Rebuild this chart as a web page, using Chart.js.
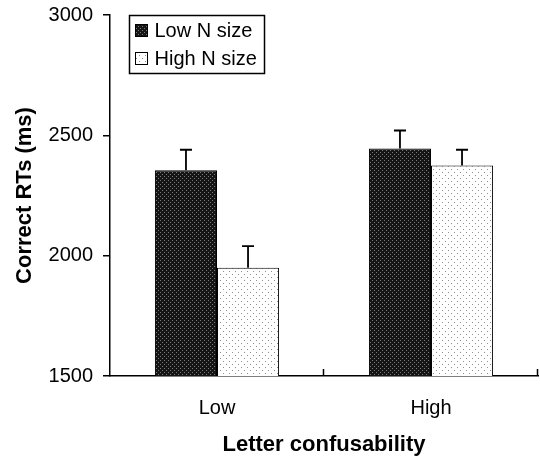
<!DOCTYPE html>
<html>
<head>
<meta charset="utf-8">
<script src="https://cdn.jsdelivr.net/npm/chart.js@4.4.1/dist/chart.umd.min.js"></script>
<style>
  html, body { margin: 0; padding: 0; background: #fff; }
  #wrap { width: 540px; height: 459px; position: relative; }
</style>
</head>
<body>
<div id="wrap"><canvas id="chart1"></canvas></div>
<script>
// data
var categories = ["Low", "High"];
var seriesNames = ["Low N size", "High N size"];
var lowNSize = [2355, 2445];
var highNSize = [1950, 2375];
var lowNSizeErr = [85, 75];
var highNSizeErr = [90, 65];
var yTicks = [1500, 2000, 2500, 3000];

var FONT = "'Liberation Sans', Arial, sans-serif";

// fill patterns
function makePattern(size, bg, dot, dots) {
	var c = document.createElement("canvas");
	c.width = size; c.height = size;
	var g = c.getContext("2d");
	g.fillStyle = bg;
	g.fillRect(0, 0, size, size);
	g.fillStyle = dot;
	dots.forEach(function(d) { g.fillRect(d[0], d[1], 1, 1); });
	return g.createPattern(c, "repeat");
}
var ctx = document.getElementById("chart1").getContext("2d");
var darkFill = makePattern(4, "#151515", "#7a7a7a", [[0, 0], [2, 2]]);
var lightFill = makePattern(6, "#ffffff", "#8f8f8f", [[1, 1], [4, 4]]);

// error bars (upward only)
var errorBars = {
	id: "errorBars",
	afterDatasetsDraw: function(chart) {
		var c = chart.ctx, y = chart.scales.y;
		c.save();
		c.strokeStyle = "#000";
		c.lineWidth = 1.8;
		chart.data.datasets.forEach(function(ds, i) {
			var meta = chart.getDatasetMeta(i);
			meta.data.forEach(function(bar, j) {
				var top = y.getPixelForValue(ds.data[j] + ds.errors[j]);
				c.beginPath();
				c.moveTo(bar.x, bar.y);
				c.lineTo(bar.x, top);
				c.moveTo(bar.x - 6, top);
				c.lineTo(bar.x + 6, top);
				c.stroke();
			});
		});
		c.restore();
	}
};

// small inward ticks between categories on the x axis
var xTicksIn = {
	id: "xTicksIn",
	afterDraw: function(chart) {
		var c = chart.ctx, x = chart.scales.x, area = chart.chartArea;
		var half = (x.getPixelForValue(1) - x.getPixelForValue(0)) / 2;
		c.save();
		c.strokeStyle = "#000";
		c.lineWidth = 1.5;
		categories.forEach(function(cat, i) {
			var px = Math.round(x.getPixelForValue(i) + half) - 0.5;
			c.beginPath();
			c.moveTo(px, area.bottom);
			c.lineTo(px, area.bottom - 7);
			c.stroke();
		});
		c.restore();
	}
};

// boxed legend inside plot
var boxLegend = {
	id: "boxLegend",
	afterDraw: function(chart) {
		var c = chart.ctx, area = chart.chartArea;
		var bx = area.left + 19.5, by = area.top + 0.5, bw = 135, bh = 58;
		c.save();
		c.fillStyle = "#fff";
		c.fillRect(bx, by, bw, bh);
		c.strokeStyle = "#000";
		c.lineWidth = 1.5;
		c.strokeRect(bx, by, bw, bh);
		c.font = "20px " + FONT;
		c.textBaseline = "middle";
		chart.data.datasets.forEach(function(ds, i) {
			var cy = by + 15 + i * 28;
			c.fillStyle = ds.backgroundColor;
			c.fillRect(bx + 6, cy - 6, 12, 12);
			c.lineWidth = 1;
			c.strokeRect(bx + 6, cy - 6, 12, 12);
			c.fillStyle = "#000";
			c.fillText(ds.label, bx + 25, cy + 1);
		});
		c.restore();
	}
};

var chart = new Chart(ctx, {
	type: "bar",
	data: {
		labels: categories,
		datasets: [{
			label: seriesNames[0],
			data: lowNSize,
			errors: lowNSizeErr,
			backgroundColor: darkFill,
			borderColor: "#000",
			borderWidth: 1,
			borderSkipped: "bottom"
		}, {
			label: seriesNames[1],
			data: highNSize,
			errors: highNSizeErr,
			backgroundColor: lightFill,
			borderColor: "#000",
			borderWidth: 1,
			borderSkipped: "bottom"
		}]
	},
	options: {
		responsive: true,
		maintainAspectRatio: false,
		animation: false,
		categoryPercentage: 0.58,
		barPercentage: 1.0,
		layout: {
			padding: { top: 15, right: 2, bottom: 0, left: 0 }
		},
		plugins: {
			legend: { display: false },
			tooltip: { enabled: false }
		},
		scales: {
			x: {
				grid: { display: false, drawTicks: false },
				border: { display: true, color: "#000", width: 1.5 },
				ticks: {
					color: "#000",
					font: { family: FONT, size: 20 },
					padding: 20
				},
				title: {
					display: true,
					text: "Letter confusability",
					color: "#000",
					font: { family: FONT, size: 22, weight: "bold" },
					padding: { top: 0, bottom: 1 }
				},
				afterFit: function(s) { s.height = 83; s.paddingLeft = 0; s.paddingRight = 0; }
			},
			y: {
				min: 1500,
				max: 3000,
				afterBuildTicks: function(s) {
					s.ticks = yTicks.map(function(v) { return { value: v }; });
				},
				grid: {
					drawOnChartArea: false,
					drawTicks: true,
					tickLength: 7,
					color: "#000",
					lineWidth: 1.5
				},
				border: { display: true, color: "#000", width: 1.5 },
				ticks: {
					color: "#000",
					font: { family: FONT, size: 20 },
					padding: 10,
					callback: function(v) { return String(v); }
				},
				title: {
					display: true,
					text: "Correct RTs (ms)",
					color: "#000",
					font: { family: FONT, size: 22, weight: "bold" },
					padding: { top: 12, bottom: 0 }
				},
				afterFit: function(s) { s.width = 110; s.paddingTop = 0; s.paddingBottom = 0; }
			}
		}
	},
	plugins: [errorBars, xTicksIn, boxLegend]
});
</script>
</body>
</html>
